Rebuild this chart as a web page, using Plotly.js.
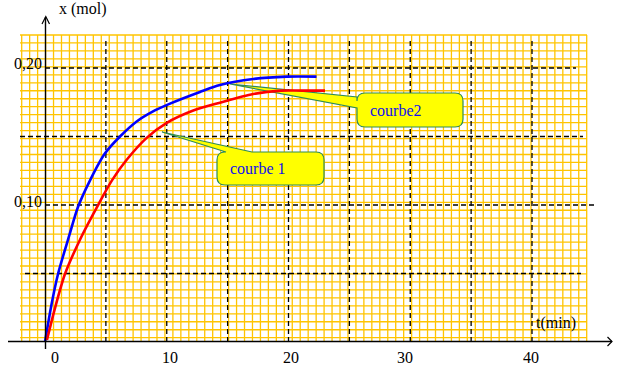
<!DOCTYPE html>
<html>
<head>
<meta charset="utf-8">
<script src="https://cdn.plot.ly/plotly-3.0.1.min.js"></script>
<style>html,body{margin:0;padding:0;background:#fff;}#chart{width:618px;height:368px;}</style>
</head>
<body>
<div id="chart"></div>
<script>
// ---- data ----
const tBlue = [0, 0.5, 1.07, 2.0, 2.71, 3.7, 4.93, 6.16, 7.53, 8.8, 10.27, 12.73, 14.37, 17.1, 19.85, 22.3];
const xBlue = [0, 0.0258, 0.0496, 0.078, 0.0985, 0.118, 0.1377, 0.150, 0.161, 0.168, 0.174, 0.1825, 0.1876, 0.192, 0.1937, 0.1937];
const tRed = [0.16, 0.8, 1.64, 3.0, 4.27, 5.5, 6.71, 8.35, 10.0, 12.18, 14.37, 17.1, 19.4, 21.2, 23.0];
const xRed = [0.0015, 0.024, 0.0496, 0.077, 0.0985, 0.118, 0.133, 0.149, 0.160, 0.169, 0.1747, 0.181, 0.1835, 0.1835, 0.1835];
const xTickVals = [0, 10, 20, 30, 40];
const xTickText = ['0', '10', '20', '30', '40'];
const yTickVals = [0.10, 0.20];
const yTickText = ['0,10', '0,20'];
const vDashVals = [5, 10, 15, 20, 25, 30, 35, 40];
const hDashVals = [0.05, 0.10, 0.15, 0.20];
const labelNames = ['courbe 1', 'courbe2'];

// ---- geometry (pixels) ----
const L = 20, R = 587, T = 35, B = 342;
const T0PX = 45, PPM = 12.175, PPU = 1370;
const px = x => (x - L) / (R - L);
const py = y => (B - y) / (B - T);
const xRange = [(L - T0PX) / PPM, (R - T0PX) / PPM];
const yRange = [(342 - B) / PPU, (342 - T) / PPU];

const shapes = [];
const grid = '#ffc400';
// orange graph paper
for (let k = 0; k <= 71; k++) {
  const x = 21.7 + k * (586.7 - 21.7) / 71;
  shapes.push({type:'line', xref:'paper', yref:'paper', x0:px(x), x1:px(x), y0:py(35), y1:py(342), line:{color:grid, width:1.3}, layer:'below'});
}
for (let k = 0; k <= 38; k++) {
  const y = 35 + k * (337.7 - 35) / 38;
  shapes.push({type:'line', xref:'paper', yref:'paper', x0:px(20), x1:px(587), y0:py(y), y1:py(y), line:{color:grid, width:1.3}, layer:'below'});
}
// dashed major lines
vDashVals.forEach(v => shapes.push({type:'line', xref:'x', yref:'paper', x0:v, x1:v, y0:py(41), y1:py(342), line:{color:'#000', width:1.3, dash:'5px,3px'}, layer:'below'}));
const hStart = [25, 45, 20, 45], hEnd = [581, 595, 583, 576];
hDashVals.forEach((v, i) => shapes.push({type:'line', xref:'paper', yref:'y', x0:px(hStart[i]), x1:px(hEnd[i]), y0:v, y1:v, line:{color:'#000', width:1.3, dash:'5px,3px'}, layer:'below'}));

// callouts
function P(x, y) { return px(x).toFixed(5) + ',' + py(y).toFixed(5); }
function box(x0, y0, x1, y1, r, extraTop, extraLeft) {
  let d = 'M' + P(x0 + r, y0);
  if (extraTop) extraTop.forEach(p => d += ' L' + P(p[0], p[1]));
  d += ' L' + P(x1 - r, y0) + ' Q' + P(x1, y0) + ' ' + P(x1, y0 + r);
  d += ' L' + P(x1, y1 - r) + ' Q' + P(x1, y1) + ' ' + P(x1 - r, y1);
  d += ' L' + P(x0 + r, y1) + ' Q' + P(x0, y1) + ' ' + P(x0, y1 - r);
  if (extraLeft) extraLeft.forEach(p => d += ' L' + P(p[0], p[1]));
  d += ' L' + P(x0, y0 + r) + ' Q' + P(x0, y0) + ' ' + P(x0 + r, y0) + ' Z';
  return d;
}
shapes.push({type:'path', xref:'paper', yref:'paper', layer:'below',
  path: box(217, 152, 324, 185, 8, [[226, 152], [162, 132], [252, 152]], null),
  fillcolor:'#ffff00', line:{color:'#2e8b57', width:1.2}});
shapes.push({type:'path', xref:'paper', yref:'paper', layer:'below',
  path: box(357, 93, 463, 127, 8, null, [[357, 108], [230, 84], [357, 97]]),
  fillcolor:'#ffff00', line:{color:'#2e8b57', width:1.2}});

// axes with arrows
shapes.push({type:'line', xref:'paper', yref:'paper', x0:px(8), x1:px(612), y0:py(341.5), y1:py(341.5), line:{color:'#000', width:1.4}});
shapes.push({type:'path', xref:'paper', yref:'paper', path:'M' + P(607.5, 337) + ' L' + P(612, 341.5) + ' L' + P(607.5, 346), line:{color:'#000', width:1.2}});
shapes.push({type:'line', xref:'paper', yref:'paper', x0:px(45.5), x1:px(45.5), y0:py(17), y1:py(349), line:{color:'#000', width:1.4}});
shapes.push({type:'path', xref:'paper', yref:'paper', path:'M' + P(42, 24) + ' L' + P(45.8, 16.5) + ' L' + P(49.5, 24), line:{color:'#000', width:1.2}});

const serif = 'Liberation Serif, Times New Roman, serif';
const annotations = [];
const xShift = [10, 3, 2, -5, -1];
xTickVals.forEach((v, i) => annotations.push({xref:'x', yref:'paper', x:v, y:py(357), text:xTickText[i], showarrow:false, xanchor:'center', yanchor:'middle', xshift:xShift[i], font:{family:serif, size:16, color:'#000'}}));
const yShift = [4, 5];
yTickVals.forEach((v, i) => annotations.push({xref:'paper', yref:'y', x:px(44), y:v, text:yTickText[i], showarrow:false, xanchor:'right', yanchor:'middle', yshift:yShift[i], font:{family:serif, size:16, color:'#000'}}));
annotations.push({xref:'paper', yref:'paper', x:px(83), y:py(9), text:'x (mol)', showarrow:false, xanchor:'center', yanchor:'middle', font:{family:serif, size:16, color:'#000'}});
annotations.push({xref:'paper', yref:'paper', x:px(556), y:py(323), text:'t(min)', showarrow:false, xanchor:'center', yanchor:'middle', font:{family:serif, size:16, color:'#000'}});
annotations.push({xref:'paper', yref:'paper', x:px(258), y:py(168), text:labelNames[0], showarrow:false, xanchor:'center', yanchor:'middle', font:{family:serif, size:16, color:'#1010ee'}});
annotations.push({xref:'paper', yref:'paper', x:px(396), y:py(110), text:labelNames[1], showarrow:false, xanchor:'center', yanchor:'middle', font:{family:serif, size:16, color:'#1010ee'}});

const traces = [
  {x:tBlue, y:xBlue, mode:'lines', line:{color:'#0000ff', width:2.6, shape:'spline', smoothing:0.8}, hoverinfo:'skip'},
  {x:tRed, y:xRed, mode:'lines', line:{color:'#ff0000', width:2.6, shape:'spline', smoothing:0.8}, hoverinfo:'skip'}
];

const layout = {
  width:618, height:368, autosize:false,
  margin:{l:L, r:618 - R, t:T, b:368 - B, pad:0},
  paper_bgcolor:'#fff', plot_bgcolor:'rgba(0,0,0,0)',
  showlegend:false,
  xaxis:{range:xRange, visible:false, fixedrange:true},
  yaxis:{range:yRange, visible:false, fixedrange:true},
  shapes:shapes, annotations:annotations
};
Plotly.newPlot('chart', traces, layout, {staticPlot:true, displayModeBar:false});
</script>
</body>
</html>
